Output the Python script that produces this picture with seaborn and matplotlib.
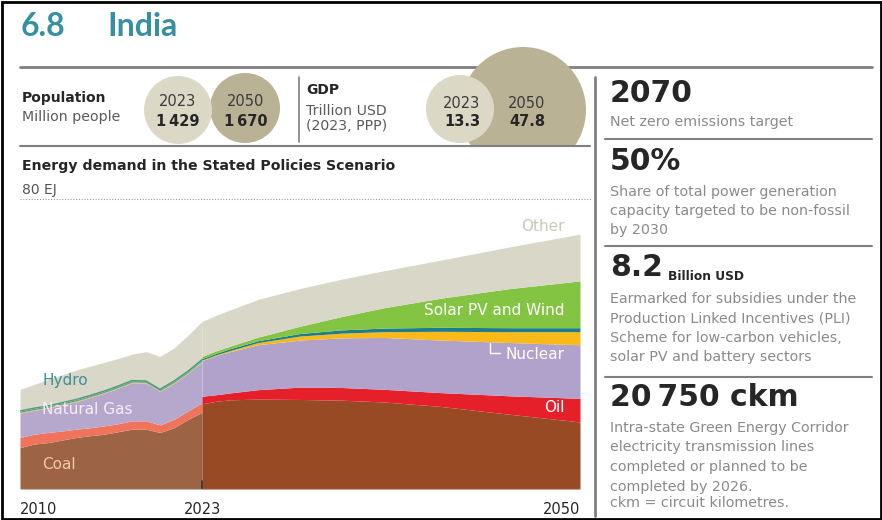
import matplotlib

matplotlib.use("Agg")
import matplotlib.pyplot as plt
from matplotlib.patches import Circle, Rectangle
import numpy as np
import pandas as pd
import seaborn as sns

# --- data (EJ) ---
hist_years = [2010, 2011, 2012, 2013, 2014, 2015, 2016, 2017, 2018, 2019, 2020, 2021, 2022, 2023]
hist_coal = [11.4, 12.4, 12.8, 13.5, 14.2, 14.7, 15.1, 15.8, 16.5, 16.5, 15.6, 16.9, 19.2, 21.1]
hist_oil = [2.8, 2.7, 2.8, 2.5, 2.3, 2.2, 2.3, 2.2, 2.3, 2.3, 2.1, 2.3, 2.3, 2.7]
hist_gas = [6.7, 6.6, 6.7, 7.2, 7.6, 8.3, 9.0, 9.8, 10.5, 10.4, 9.2, 10.0, 10.4, 11.3]
hist_nuclear = [0.2, 0.2, 0.2, 0.2, 0.2, 0.2, 0.2, 0.2, 0.2, 0.2, 0.2, 0.2, 0.2, 0.2]
hist_hydro = [0.4, 0.4, 0.4, 0.4, 0.4, 0.4, 0.4, 0.4, 0.4, 0.4, 0.4, 0.4, 0.4, 0.4]
hist_solar = [0.0, 0.0, 0.0, 0.0, 0.0, 0.0, 0.1, 0.1, 0.2, 0.2, 0.2, 0.3, 0.4, 0.5]
hist_other = [6.0, 6.5, 7.3, 7.7, 8.1, 8.1, 7.8, 7.5, 7.1, 7.9, 8.9, 8.8, 9.5, 10.0]

proj_years = [2023, 2024, 2025, 2027, 2030, 2033, 2036, 2040, 2045, 2050]
proj_coal = [23.5, 24.2, 24.6, 24.8, 24.7, 24.5, 24.0, 22.8, 20.6, 18.5]
proj_oil = [2.1, 1.8, 1.9, 2.6, 3.4, 3.5, 3.5, 3.8, 5.1, 6.5]
proj_gas = [9.8, 10.8, 11.4, 12.4, 13.0, 13.7, 14.3, 14.5, 14.7, 14.8]
proj_nuclear = [0.2, 0.2, 0.3, 0.6, 1.1, 1.3, 1.6, 2.4, 3.0, 3.6]
proj_hydro = [0.4, 0.4, 0.5, 0.5, 0.7, 0.9, 1.0, 1.1, 1.1, 1.1]
proj_solar = [0.6, 0.7, 0.7, 1.0, 2.0, 3.7, 5.6, 8.0, 10.8, 12.9]
proj_other = [9.6, 9.8, 10.0, 10.4, 10.4, 10.3, 10.2, 10.5, 11.5, 12.9]

x_ticks = [2010, 2023, 2050]

pop_years = ["2023", "2050"]
pop_values = ["1\u2009429", "1\u2009670"]
gdp_years = ["2023", "2050"]
gdp_values = ["13.3", "47.8"]

TEAL = "#3790a1"
GREY_TXT = "#8a8a8a"
DARK = "#262626"
LINE = "#808080"


def main() -> None:
    sns.set_theme(style="white")
    plt.rcParams["font.family"] = ["DejaVu Sans"]

    W, H = 882, 520
    fig = plt.figure(figsize=(W / 100, H / 100), dpi=100)
    fig.patch.set_facecolor("white")

    # chart axes placed in pixel terms
    x0, x1, y_top, y_base = 20, 580, 199, 489
    ax = fig.add_axes([x0 / W, 1 - y_base / H, (x1 - x0) / W, (y_base - y_top) / H])
    ax.set_xlim(2010, 2050)
    ax.set_ylim(0, 80)
    ax.axis("off")

    hist = pd.DataFrame({
        "year": hist_years, "coal": hist_coal, "oil": hist_oil, "gas": hist_gas,
        "nuclear": hist_nuclear, "hydro": hist_hydro, "solar": hist_solar, "other": hist_other,
    })
    proj = pd.DataFrame({
        "year": proj_years, "coal": proj_coal, "oil": proj_oil, "gas": proj_gas,
        "nuclear": proj_nuclear, "hydro": proj_hydro, "solar": proj_solar, "other": proj_other,
    })
    cols = ["coal", "oil", "gas", "nuclear", "hydro", "solar", "other"]
    hist_colors = ["#9c6444", "#f0745c", "#b6a8cd", "#f2b82a", "#5aa590", "#7fc04a", "#d9d7c8"]
    proj_colors = ["#974a24", "#e5202b", "#b1a2cb", "#f8b919", "#1d7d8c", "#84c443", "#d9d7c8"]
    ax.stackplot(hist["year"], *[hist[c] for c in cols], colors=hist_colors, lw=0)
    ax.stackplot(proj["year"], *[proj[c] for c in cols], colors=proj_colors, lw=0)

    # hydro outline in the historical part
    hydro_top = hist[cols[:5]].sum(axis=1)
    sns.lineplot(x=hist["year"], y=hydro_top, ax=ax, color="#4e9c86", lw=1.0)

    # 80 EJ gridline and 2023 marker
    ax.plot([2010, 2050.8], [80, 80], ls=(0, (1, 1.5)), color="#9a9a9a", lw=0.8, clip_on=False)
    ax.plot([2023, 2023], [0, 2.2], color="#333333", lw=1.2)
    ax.plot([2010, 2050], [0, 0], color="#cfcfcf", lw=0.8)

    # in-chart labels
    lab = dict(fontsize=11, va="center")
    ax.text(2011.6, 30.0, "Hydro", color="#3a8f9a", **lab)
    ax.text(2011.6, 21.9, "Natural Gas", color="#f2eef8", **lab)
    ax.text(2011.6, 6.7, "Coal", color="#f3c9a6", **lab)
    ax.text(2048.9, 72.3, "Other", color="#c9c7b6", ha="right", **lab)
    ax.text(2048.9, 49.2, "Solar PV and Wind", color="white", ha="right", **lab)
    ax.text(2048.9, 37.0, "Nuclear", color="white", ha="right", **lab)
    ax.plot([2043.6, 2043.6, 2044.3], [40.3, 37.4, 37.4], color="white", lw=1.0)
    ax.text(2048.9, 22.4, "Oil", color="white", ha="right", **lab)

    for yr, ha in zip(x_ticks, ["left", "center", "right"]):
        ax.text(yr, -3.6, str(yr), ha=ha, va="top", fontsize=10.5, color=DARK)

    # overlay in pixel coordinates for the infographic frame
    ov = fig.add_axes([0, 0, 1, 1], zorder=5)
    ov.set_xlim(0, W)
    ov.set_ylim(H, 0)
    ov.axis("off")
    ov.patch.set_alpha(0)

    title_font = ["Lato", "DejaVu Sans"]
    ov.text(21, 27, "6.8", color=TEAL, fontsize=23, fontweight="bold", va="center",
            family=title_font)
    ov.text(107, 27, "India", color=TEAL, fontsize=23, fontweight="bold", va="center",
            family=title_font)

    ov.plot([20, 872], [67, 67], color=LINE, lw=2.0, zorder=1)
    ov.plot([20, 590], [146, 146], color=LINE, lw=1.5, zorder=4)
    ov.plot([299, 299], [77, 142], color=LINE, lw=1.2)
    ov.plot([595, 595], [77, 516], color=LINE, lw=2.0)

    ov.text(22, 98, "Population", fontsize=10, fontweight="bold", color=DARK, va="center")
    ov.text(22, 117, "Million people", fontsize=10.2, color="#5a5a5a", va="center")
    ov.text(306, 90, "GDP", fontsize=10, fontweight="bold", color=DARK, va="center")
    ov.text(306, 111, "Trillion USD", fontsize=10.2, color="#5a5a5a", va="center")
    ov.text(306, 126, "(2023, PPP)", fontsize=10.2, color="#5a5a5a", va="center")

    clip = Rectangle((0, 0), W, 146, transform=ov.transData)
    # darker 2050 circles first, lighter 2023 circles on top
    circles = [
        ((245, 108), 35, "#b9b295"),
        ((523, 110), 63, "#b9b295"),
        ((178, 110), 34, "#dcd8c6"),
        ((460, 109), 34, "#dcd8c6"),
    ]
    for (cx, cy), r, c in circles:
        circ = Circle((cx, cy), r, color=c, lw=0, zorder=3)
        ov.add_patch(circ)
        circ.set_clip_path(clip)

    for cx, yr, val in zip([178, 246], pop_years, pop_values):
        ov.text(cx, 102, yr, ha="center", va="center", fontsize=10.5, color="#3a3a3a", zorder=5)
        ov.text(cx, 121, val, ha="center", va="center", fontsize=10.5, fontweight="bold",
                color=DARK, zorder=5)
    for cx, yr, val in zip([462, 527], gdp_years, gdp_values):
        ov.text(cx, 103, yr, ha="center", va="center", fontsize=10.5, color="#3a3a3a", zorder=5)
        ov.text(cx, 122, val, ha="center", va="center", fontsize=10.5, fontweight="bold",
                color=DARK, zorder=5)

    ov.text(22, 166, "Energy demand in the Stated Policies Scenario", fontsize=10.2,
            fontweight="bold", color=DARK, va="center")
    ov.text(22, 190, "80 EJ", fontsize=10, color="#555555", va="center")

    # right-hand key facts
    rx = 610
    big = dict(fontsize=21.5, fontweight="bold", color=DARK, va="center")
    body = dict(fontsize=10.3, color=GREY_TXT, va="center")
    ov.text(rx, 93, "2070", **big)
    ov.text(rx, 122, "Net zero emissions target", **body)
    ov.plot([605, 872], [139, 139], color=LINE, lw=1.5)
    ov.text(rx, 162, "50%", **big)
    for i, line in enumerate(["Share of total power generation",
                              "capacity targeted to be non-fossil", "by 2030"]):
        ov.text(rx, 192 + i * 19, line, **body)
    ov.plot([605, 872], [246, 246], color=LINE, lw=1.5)
    ov.text(rx, 268, "8.2", **big)
    ov.text(668, 276, "Billion USD", fontsize=8.8, fontweight="bold", color=DARK, va="center")
    for i, line in enumerate(["Earmarked for subsidies under the",
                              "Production Linked Incentives (PLI)",
                              "Scheme for low-carbon vehicles,",
                              "solar PV and battery sectors"]):
        ov.text(rx, 299 + i * 19.3, line, **body)
    ov.plot([605, 872], [377, 377], color=LINE, lw=1.5)
    ov.text(rx, 398, "20\u2009750 ckm", **big)
    for i, line in enumerate(["Intra-state Green Energy Corridor",
                              "electricity transmission lines",
                              "completed or planned to be",
                              "completed by 2026."]):
        ov.text(rx, 428 + i * 19.5, line, **body)
    ov.text(rx, 503, "ckm = circuit kilometres.", **body)

    # outer frame
    ov.add_patch(Rectangle((1.5, 1.5), W - 3, H - 3, fill=False, ec="black", lw=2))

    fig.savefig("out.png", dpi=100, facecolor="white")
    plt.close(fig)


if __name__ == "__main__":
    main()
